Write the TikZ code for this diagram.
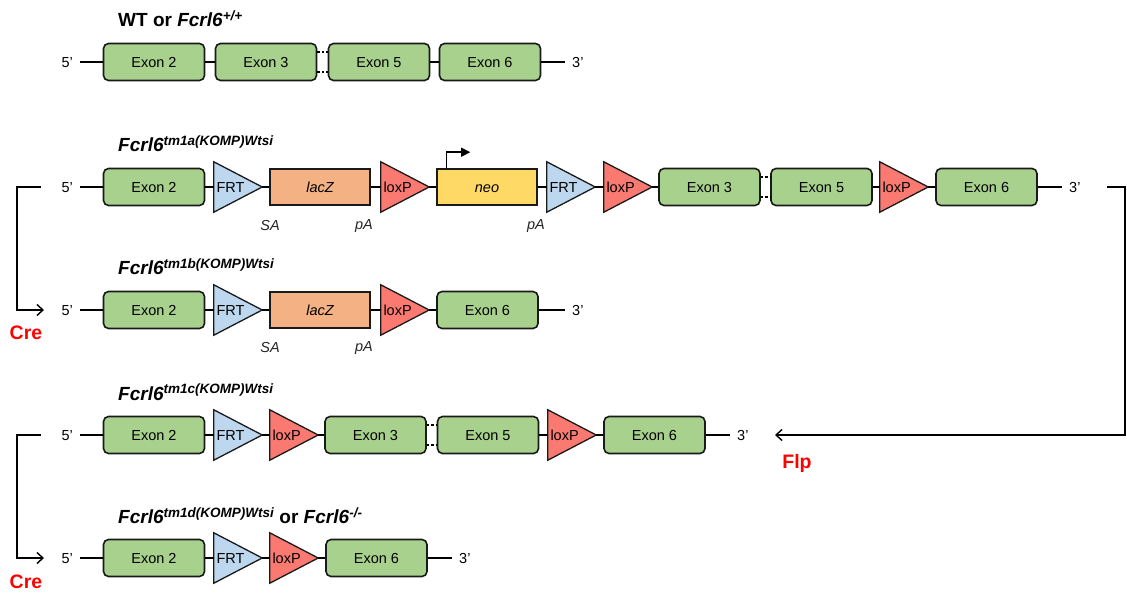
\documentclass[tikz,border=0pt]{standalone}
\usepackage{fontspec}
\setmainfont{Liberation Sans}
\usetikzlibrary{arrows.meta}

\definecolor{exongreen}{HTML}{A9D18E}
\definecolor{lacorange}{HTML}{F4B183}
\definecolor{neoyellow}{HTML}{FFD966}
\definecolor{frtblue}{HTML}{BDD7EE}
\definecolor{loxred}{HTML}{FA7A72}
\definecolor{edge}{HTML}{1A1A1A}
\definecolor{enzred}{HTML}{FF0000}

\newcommand\lbl{\fontsize{14.5}{16}\selectfont}
\newcommand\ttlfont{\fontsize{19}{22}\selectfont\bfseries}
\newcommand\supx[1]{\raisebox{6pt}{\fontsize{13.5}{15}\selectfont #1}}

\tikzset{
  exon/.style={draw=edge, line width=1.6pt, rounded corners=5pt, fill=exongreen,
    minimum width=101pt, minimum height=37pt, inner sep=0pt,
    text height=10.4pt, text depth=0pt, font=\lbl},
  cassette/.style={draw=edge, line width=1.6pt, minimum width=100pt, minimum height=36pt,
    inner sep=0pt, text height=10.4pt, text depth=0pt, font=\lbl\itshape},
  tribox/.style={inner sep=0pt, minimum width=48pt, minimum height=50pt},
  triline/.style={draw=edge, line width=1.3pt, line join=miter},
  sitelbl/.style={inner sep=0pt, text height=10.4pt, text depth=0pt, font=\lbl},
  spine/.style={line width=2.8pt, draw=black},
  gapdash/.style={line width=2pt, dash pattern=on 2.5pt off 2pt},
  endlbl/.style={font=\lbl, inner xsep=7pt, inner ysep=0pt, text height=10.4pt, text depth=0pt},
  ttl/.style={anchor=base west, inner sep=0pt, font=\ttlfont},
  sig/.style={font=\lbl\itshape, inner sep=0pt, text=black!85},
  flow/.style={line width=1.4pt, -{Straight Barb[length=6pt,width=11pt]}},
  enz/.style={text=enzred, inner sep=0pt, font=\fontsize{19.5}{22}\selectfont\bfseries}
}

% recombination site: name, centre x, centre y, fill, label
\newcommand\site[5]{%
  \node[tribox] (#1) at (#2,#3) {};
  \draw[triline, fill=#4] (#1.north west) -- (#1.east) -- (#1.south west) -- cycle;
  \node[sitelbl, anchor=west] (#1l) at ([xshift=2.5pt]#1.west) {#5};
}

\begin{document}
\begin{tikzpicture}[x=1pt,y=-1pt]
\useasboundingbox[fill=white] (0,0) rectangle (1127,593);

% ---------- wild type ----------
\node[ttl] (t1) at (118,27) {WT or \textit{Fcrl6}\supx{\textit{+/+}}};
\node[endlbl, anchor=east] (r1a) at (80,62) {5’};
\node[exon] (r1e2) at (154,62) {Exon 2};
\node[exon] (r1e3) at (266,62) {Exon 3};
\node[exon] (r1e5) at (379,62) {Exon 5};
\node[exon] (r1e6) at (490,62) {Exon 6};
\node[endlbl, anchor=west] (r1b) at (565,62) {3’};
\foreach \p/\q in {r1a/r1e2, r1e2/r1e3, r1e5/r1e6, r1e6/r1b}
  \draw[spine] (\p) -- (\q);
\draw[gapdash] ([yshift=10pt]r1e3.east) -- ([yshift=10pt]r1e5.west)
               ([yshift=-10pt]r1e3.east) -- ([yshift=-10pt]r1e5.west);

% ---------- tm1a ----------
\node[ttl] (t2) at (118,152) {\textit{Fcrl6}\supx{\textit{tm1a(KOMP)Wtsi}}};
\node[endlbl, anchor=east] (r2a) at (80,187) {5’};
\node[exon] (r2e2) at (154,187) {Exon 2};
\site{r2f1}{238}{187}{frtblue}{FRT}
\node[cassette, fill=lacorange] (r2lz) at (320,187) {lacZ};
\site{r2x1}{405}{187}{loxred}{loxP}
\node[cassette, fill=neoyellow] (r2neo) at (487,187) {neo};
\site{r2f2}{571}{187}{frtblue}{FRT}
\site{r2x2}{628}{187}{loxred}{loxP}
\node[exon] (r2e3) at (709.5,187) {Exon 3};
\node[exon] (r2e5) at (821.5,187) {Exon 5};
\site{r2x3}{904}{187}{loxred}{loxP}
\node[exon] (r2e6) at (986.5,187) {Exon 6};
\node[endlbl, anchor=west] (r2b) at (1062,187) {3’};
\foreach \p/\q in {r2a/r2e2, r2e2/r2f1, r2f1/r2lz, r2lz/r2x1, r2x1/r2neo, r2neo/r2f2,
                   r2f2/r2x2, r2x2/r2e3, r2e5/r2x3, r2x3/r2e6, r2e6/r2b}
  \draw[spine] (\p) -- (\q);
\draw[gapdash] ([yshift=10pt]r2e3.east) -- ([yshift=10pt]r2e5.west)
               ([yshift=-10pt]r2e3.east) -- ([yshift=-10pt]r2e5.west);
\draw[line width=1.4pt, -{Triangle[length=9pt,width=9pt]}]
  ([xshift=10pt]r2neo.north west) -- ++(0,-16) -- ++(24,0);
\node[sig] (r2sa) at (270,226) {SA};
\node[sig] (r2pa1) at (364,226) {pA};
\node[sig] (r2pa2) at (536,226) {pA};

% ---------- tm1b ----------
\node[ttl] (t3) at (118,275) {\textit{Fcrl6}\supx{\textit{tm1b(KOMP)Wtsi}}};
\node[endlbl, anchor=east] (r3a) at (80,310) {5’};
\node[exon] (r3e2) at (154,310) {Exon 2};
\site{r3f1}{238}{310}{frtblue}{FRT}
\node[cassette, fill=lacorange] (r3lz) at (320,310) {lacZ};
\site{r3x1}{405}{310}{loxred}{loxP}
\node[exon] (r3e6) at (487.5,310) {Exon 6};
\node[endlbl, anchor=west] (r3b) at (565,310) {3’};
\foreach \p/\q in {r3a/r3e2, r3e2/r3f1, r3f1/r3lz, r3lz/r3x1, r3x1/r3e6, r3e6/r3b}
  \draw[spine] (\p) -- (\q);
\node[sig] (r3sa) at (270,348) {SA};
\node[sig] (r3pa) at (364,348) {pA};

% ---------- tm1c ----------
\node[ttl] (t4) at (118,400) {\textit{Fcrl6}\supx{\textit{tm1c(KOMP)Wtsi}}};
\node[endlbl, anchor=east] (r4a) at (80,435) {5’};
\node[exon] (r4e2) at (154,435) {Exon 2};
\site{r4f1}{238}{435}{frtblue}{FRT}
\site{r4x1}{294}{435}{loxred}{loxP}
\node[exon] (r4e3) at (375.5,435) {Exon 3};
\node[exon] (r4e5) at (488,435) {Exon 5};
\site{r4x2}{572}{435}{loxred}{loxP}
\node[exon] (r4e6) at (654.5,435) {Exon 6};
\node[endlbl, anchor=west] (r4b) at (730,435) {3’};
\foreach \p/\q in {r4a/r4e2, r4e2/r4f1, r4f1/r4x1, r4x1/r4e3, r4e5/r4x2, r4x2/r4e6, r4e6/r4b}
  \draw[spine] (\p) -- (\q);
\draw[gapdash] ([yshift=10pt]r4e3.east) -- ([yshift=10pt]r4e5.west)
               ([yshift=-10pt]r4e3.east) -- ([yshift=-10pt]r4e5.west);

% ---------- tm1d ----------
\node[ttl] (t5) at (118,523) {\textit{Fcrl6}\supx{\textit{tm1d(KOMP)Wtsi}} or \textit{Fcrl6}\supx{\textit{-/-}}};
\node[endlbl, anchor=east] (r5a) at (80,558) {5’};
\node[exon] (r5e2) at (154,558) {Exon 2};
\site{r5f1}{238}{558}{frtblue}{FRT}
\site{r5x1}{294}{558}{loxred}{loxP}
\node[exon] (r5e6) at (376.5,558) {Exon 6};
\node[endlbl, anchor=west] (r5b) at (452,558) {3’};
\foreach \p/\q in {r5a/r5e2, r5e2/r5f1, r5f1/r5x1, r5x1/r5e6, r5e6/r5b}
  \draw[spine] (\p) -- (\q);

% ---------- recombinase steps ----------
\coordinate (k1a) at (41,187);
\coordinate (k1b) at (44,310);
\draw[flow] (k1a) -- ++(-24,0) |- (k1b);
\node[enz] (cre1) at (26,333) {Cre};

\coordinate (k2a) at (41,435);
\coordinate (k2b) at (44,558);
\draw[flow] (k2a) -- ++(-24,0) |- (k2b);
\node[enz] (cre2) at (26,582) {Cre};

\coordinate (fa) at (1107,187);
\coordinate (fb) at (775,435);
\draw[flow] (fa) -- ++(18,0) |- (fb);
\node[enz] (flp) at (797,463) {Flp};
\end{tikzpicture}
\end{document}
